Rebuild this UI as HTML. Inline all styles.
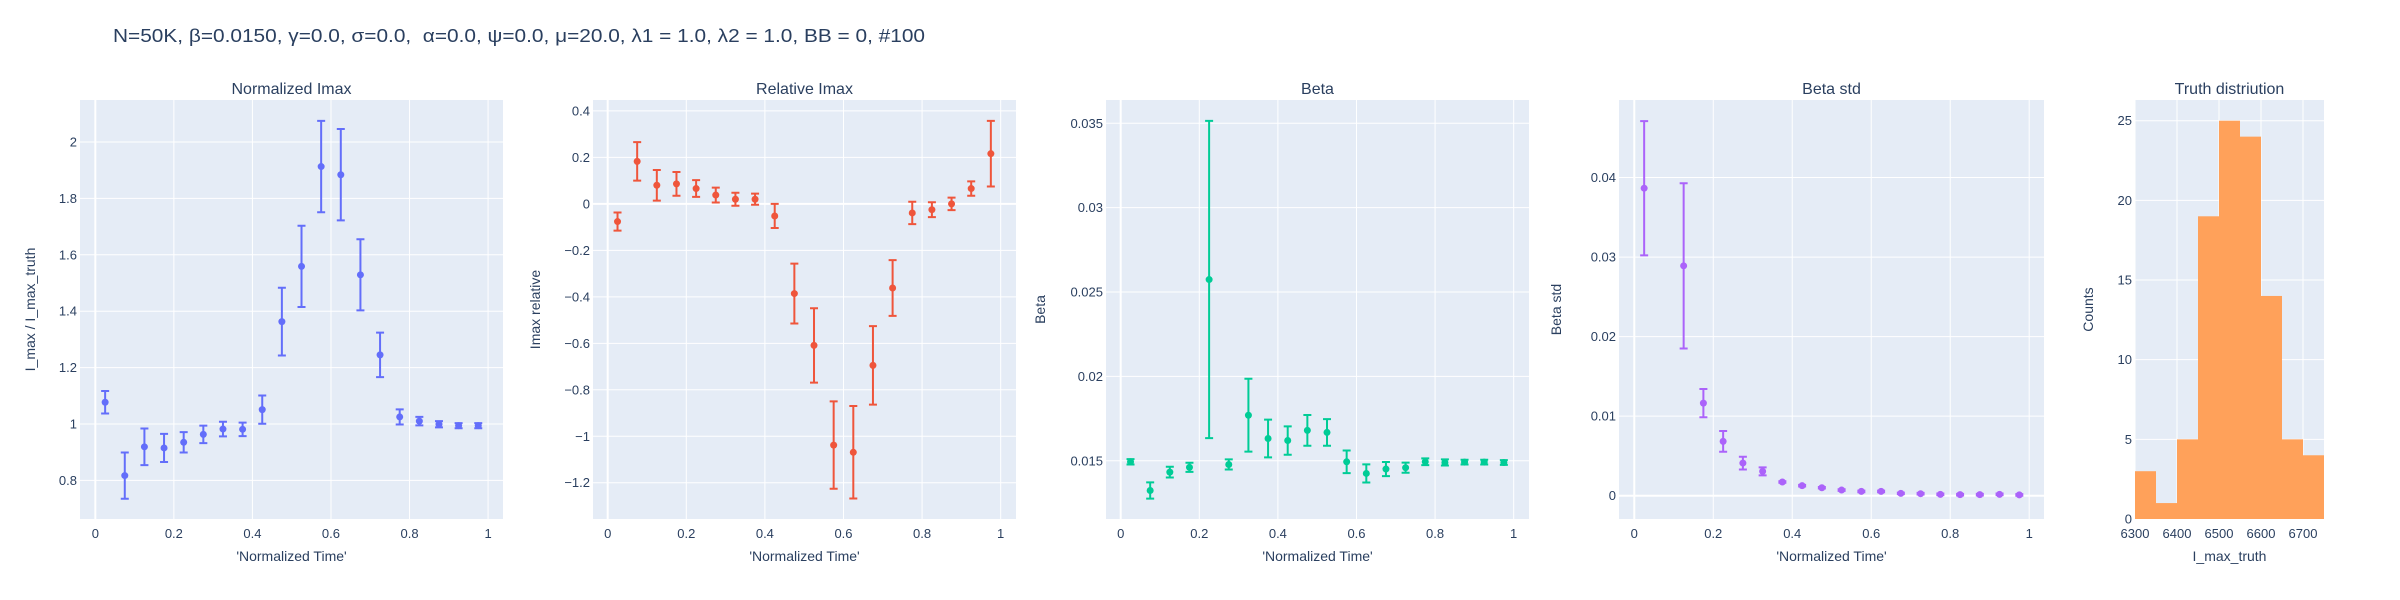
<!DOCTYPE html>
<html><head><meta charset="utf-8"><style>
html,body{margin:0;padding:0;background:#fff;}
svg{display:block;font-family:"Liberation Sans",sans-serif;}
</style></head><body>
<svg id="chart" width="2400" height="600" viewBox="0 0 2400 600" xmlns="http://www.w3.org/2000/svg">
<text x="113" y="42" font-size="18" fill="#2a3f5f" textLength="812" lengthAdjust="spacingAndGlyphs" xml:space="preserve">N=50K, β=0.0150, γ=0.0, σ=0.0,  α=0.0, ψ=0.0, μ=20.0, λ1 = 1.0, λ2 = 1.0, BB = 0, #100</text>
</svg>
<script>
const timeX = [0.025,0.075,0.125,0.175,0.225,0.275,0.325,0.375,0.425,0.475,0.525,0.575,0.625,0.675,0.725,0.775,0.825,0.875,0.925,0.975];
const normImaxY = [1.077,0.817,0.919,0.915,0.935,0.963,0.982,0.981,1.051,1.363,1.559,1.913,1.884,1.529,1.245,1.025,1.010,0.999,0.994,0.994];
const normImaxErr = [0.040,0.082,0.065,0.050,0.036,0.031,0.026,0.024,0.050,0.120,0.144,0.162,0.162,0.126,0.079,0.027,0.015,0.011,0.009,0.009];
const relImaxY = [-0.076,0.183,0.080,0.086,0.066,0.038,0.020,0.020,-0.052,-0.386,-0.609,-1.038,-1.069,-0.695,-0.362,-0.039,-0.025,0.0,0.066,0.216];
const relImaxErr = [0.039,0.083,0.066,0.051,0.036,0.032,0.028,0.024,0.052,0.129,0.160,0.188,0.199,0.169,0.120,0.048,0.032,0.027,0.031,0.141];
const betaY = [0.01494,0.01324,0.01433,0.01461,0.02574,0.01478,0.0177,0.01632,0.0162,0.0168,0.01668,0.01494,0.01425,0.01451,0.01459,0.01494,0.0149,0.01492,0.01492,0.0149];
const betaErr = [0.00016,0.00048,0.00032,0.00027,0.0094,0.0003,0.00216,0.00112,0.00084,0.00091,0.00079,0.00067,0.00054,0.00042,0.0003,0.0002,0.00018,0.00014,0.00014,0.00014];
const stdX = [0.025,0.125,0.175,0.225,0.275,0.325,0.375,0.425,0.475,0.525,0.575,0.625,0.675,0.725,0.775,0.825,0.875,0.925,0.975];
const stdY = [0.03866,0.0289,0.01164,0.00683,0.0041,0.00306,0.00172,0.00126,0.001,0.00071,0.00054,0.00054,0.00029,0.00025,0.00017,0.00013,0.00013,0.00017,0.0001];
const stdErr = [0.00844,0.01039,0.00178,0.0013,0.0008,0.0005,0.0001,0.0001,0.0001,0.0001,0.0001,0.0001,0.0001,0.0001,0.0001,0.0001,0.0001,0.0001,0.0001];
const histEdges = [6300,6350,6400,6450,6500,6550,6600,6650,6700,6750];
const histCounts = [3,1,5,19,25,24,14,5,4];
const timeTicks = [0,0.2,0.4,0.6,0.8,1];
const timeTickLabels = ["0","0.2","0.4","0.6","0.8","1"];
const p1Ticks = [0.8,1,1.2,1.4,1.6,1.8,2];
const p1Labels = ["0.8","1","1.2","1.4","1.6","1.8","2"];
const p2Ticks = [0.4,0.2,0,-0.2,-0.4,-0.6,-0.8,-1,-1.2];
const p2Labels = ["0.4","0.2","0","\u22120.2","\u22120.4","\u22120.6","\u22120.8","\u22121","\u22121.2"];
const p3Ticks = [0.015,0.02,0.025,0.03,0.035];
const p3Labels = ["0.015","0.02","0.025","0.03","0.035"];
const p4Ticks = [0,0.01,0.02,0.03,0.04];
const p4Labels = ["0","0.01","0.02","0.03","0.04"];
const p5YTicks = [0,5,10,15,20,25];
const p5YLabels = ["0","5","10","15","20","25"];
const p5XTicks = [6300,6400,6500,6600,6700];
const p5XLabels = ["6300","6400","6500","6600","6700"];

const svg = document.getElementById('chart');
const NS = 'http://www.w3.org/2000/svg';
function mk(tag, attrs, parent){const e=document.createElementNS(NS,tag);for(const k in attrs)e.setAttribute(k,attrs[k]);(parent||svg).appendChild(e);return e;}
const TXT='#2a3f5f';

function panel(cfg){
  const g = mk('g',{});
  
  
  const sx = v => cfg.l + (v-cfg.x0)/(cfg.x1-cfg.x0)*(cfg.r-cfg.l);
  const sy = v => cfg.b - (v-cfg.y0)/(cfg.y1-cfg.y0)*(cfg.b-cfg.t);
  const bg = mk('rect',{x:cfg.l,y:cfg.t,width:cfg.r-cfg.l,height:cfg.b-cfg.t,fill:'#E5ECF6'},g);
  
  
  cfg.xt.forEach((v,i)=>{
    const x=sx(v);
    const zero = cfg.xzero && v===0;
    const ln = mk('line',{x1:x,x2:x,y1:cfg.t,y2:cfg.b,stroke:'#fff','stroke-width':zero?2:1},g);
    
    
    const t = mk('text',{x:x,y:cfg.b+19,'font-size':13,fill:TXT,'text-anchor':'middle'},g);
    
    
    t.textContent = cfg.xl[i];
  });
  cfg.yt.forEach((v,i)=>{
    const y=sy(v);
    const zero = cfg.yzero && v===0;
    const ln = mk('line',{x1:cfg.l,x2:cfg.r,y1:y,y2:y,stroke:'#fff','stroke-width':zero?2:1},g);
    
    
    const t = mk('text',{x:cfg.l-3,y:y+4.5,'font-size':13,fill:TXT,'text-anchor':'end'},g);
    
    
    t.textContent = cfg.yl[i];
  });
  const tt = mk('text',{x:(cfg.l+cfg.r)/2,y:94,'font-size':16,fill:TXT,'text-anchor':'middle'},g);
  
  
  tt.textContent = cfg.title;
  const xt = mk('text',{x:(cfg.l+cfg.r)/2,y:561,'font-size':14,fill:TXT,'text-anchor':'middle'},g);
  
  
  xt.textContent = cfg.xtitle;
  const yc=(cfg.t+cfg.b)/2;
  const yt = mk('text',{x:cfg.ytx,y:yc,'font-size':14,fill:TXT,'text-anchor':'middle',transform:`rotate(-90 ${cfg.ytx} ${yc})`},g);
  
  
  yt.textContent = cfg.ytitle;
  return {g,sx,sy};
}

function errSeries(p, xs, ys, es, color, name){
  xs.forEach((xv,i)=>{
    const x=p.sx(xv), yt=p.sy(ys[i]+es[i]), yb=p.sy(ys[i]-es[i]), yc=p.sy(ys[i]);
    const eb = mk('path',{d:`M${x},${yt}V${yb}M${x-4},${yt}H${x+4}M${x-4},${yb}H${x+4}`,stroke:color,'stroke-width':2,fill:'none'},p.g);
    
    
    const c = mk('circle',{cx:x,cy:yc,r:3.5,fill:color},p.g);
    
    
  });
}

const common = {t:100,b:519,xt:timeTicks,xl:timeTickLabels,xtitle:"'Normalized Time'",xzero:true};
const p1 = panel(Object.assign({},common,{name:'normalized-imax-panel',l:80,r:503,x0:-0.039,x1:1.038,y0:0.663,y1:2.149,yt:p1Ticks,yl:p1Labels,title:'Normalized Imax',ytitle:'I_max / I_max_truth',ytx:35}));
errSeries(p1,timeX,normImaxY,normImaxErr,'#636efa','normalized-imax');
const p2 = panel(Object.assign({},common,{name:'relative-imax-panel',l:593,r:1016,x0:-0.0374,x1:1.039,y0:-1.356,y1:0.447,yt:p2Ticks,yl:p2Labels,title:'Relative Imax',ytitle:'Imax relative',ytx:540,yzero:true}));
errSeries(p2,timeX,relImaxY,relImaxErr,'#EF553B','relative-imax');
const p3 = panel(Object.assign({},common,{name:'beta-panel',l:1106,r:1529,x0:-0.0374,x1:1.039,y0:0.01155,y1:0.03638,yt:p3Ticks,yl:p3Labels,title:'Beta',ytitle:'Beta',ytx:1045}));
errSeries(p3,timeX,betaY,betaErr,'#00cc96','beta');
const p4 = panel(Object.assign({},common,{name:'beta-std-panel',l:1619,r:2044,x0:-0.0387,x1:1.0375,y0:-0.00293,y1:0.04975,yt:p4Ticks,yl:p4Labels,title:'Beta std',ytitle:'Beta std',ytx:1561,yzero:true}));
errSeries(p4,stdX,stdY,stdErr,'#ab63fa','beta-std');
const p5 = panel({name:'truth-distribution-panel',l:2135,r:2324,t:100,b:519,x0:6300,x1:6750,y0:0,y1:26.3,xt:p5XTicks,xl:p5XLabels,yt:p5YTicks,yl:p5YLabels,title:'Truth distriution',xtitle:'I_max_truth',ytitle:'Counts',ytx:2093});
histCounts.forEach((c,i)=>{
  const x0=p5.sx(histEdges[i]), x1=p5.sx(histEdges[i+1]), y=p5.sy(c);
  const r = mk('rect',{x:x0,y:y,width:x1-x0,height:p5.sy(0)-y,fill:'#FFA15A'},p5.g);
  
  
});
</script>
</body></html>
